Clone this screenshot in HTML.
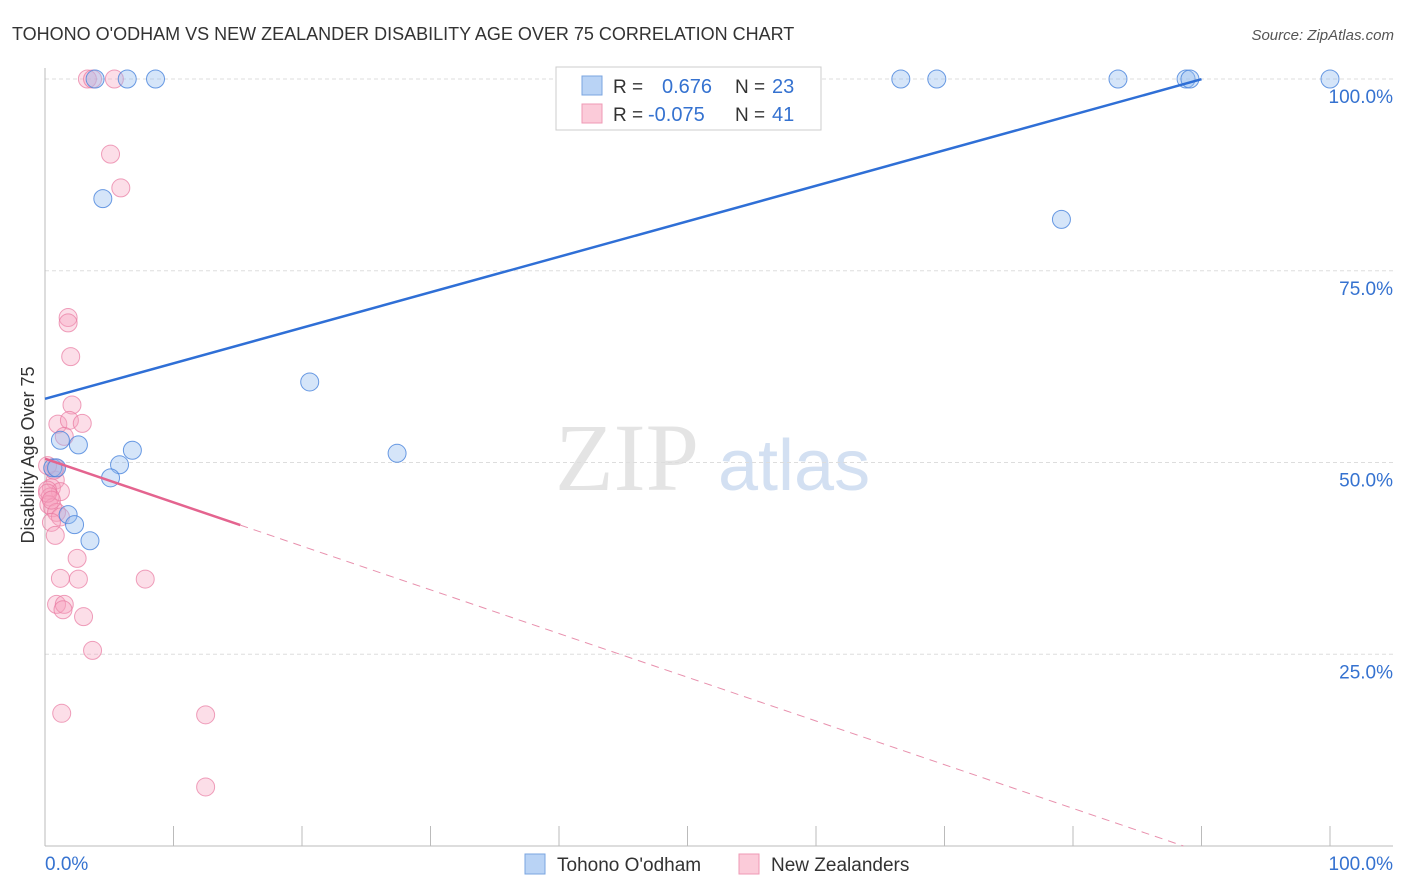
<!DOCTYPE html>
<html><head><meta charset="utf-8"><style>
body{margin:0;background:#fff;font-family:"Liberation Sans",sans-serif;}
svg{display:block}
</style></head><body>
<svg id="chart" width="1406" height="892">
<text x="12" y="40" font-size="18" fill="#333">TOHONO O'ODHAM VS NEW ZEALANDER DISABILITY AGE OVER 75 CORRELATION CHART</text>
<text x="1394" y="40" font-size="15" fill="#555" font-style="italic" text-anchor="end">Source: ZipAtlas.com</text>
<text x="555" y="490" font-size="96" fill="#e4e4e4" font-family="Liberation Serif">ZIP</text>
<text x="718" y="490" font-size="72" fill="#d3e0f2">atlas</text>
<g id="grid"></g><g id="axes"></g><g id="marks"></g>
<text transform="translate(34,455) rotate(-90)" font-size="18" fill="#333" text-anchor="middle">Disability Age Over 75</text>
<g>
<rect x="556" y="67" width="265" height="63" fill="#fff" stroke="#ccc"/>
<rect x="582" y="76" width="20" height="19" fill="#b9d3f5" stroke="#7aa5e0"/>
<rect x="582" y="104" width="20" height="19" fill="#fbcbd9" stroke="#ef9ab5"/>
<text x="613" y="93" font-size="19" fill="#333">R =</text><text x="662" y="93" font-size="20" fill="#3572d0">0.676</text>
<text x="735" y="93" font-size="19" fill="#333">N =</text><text x="772" y="93" font-size="20" fill="#3572d0">23</text>
<text x="613" y="121" font-size="19" fill="#333">R =</text><text x="648" y="121" font-size="20" fill="#3572d0">-0.075</text>
<text x="735" y="121" font-size="19" fill="#333">N =</text><text x="772" y="121" font-size="20" fill="#3572d0">41</text>
</g>
<g>
<rect x="525" y="854" width="20" height="20" fill="#b9d3f5" stroke="#7aa5e0"/>
<text x="557" y="871" font-size="19" fill="#333">Tohono O'odham</text>
<rect x="739" y="854" width="20" height="20" fill="#fbcbd9" stroke="#ef9ab5"/>
<text x="771" y="871" font-size="19" fill="#333">New Zealanders</text>
</g>
</svg>
<script>
const blueX=[3.9,6.4,8.6,66.6,69.4,83.5,88.8,89.1,100,4.5,79.1,20.6,27.4,1.2,2.6,6.8,5.8,0.6,0.9,5.1,1.8,2.3,3.5];
const blueY=[100,100,100,100,100,100,100,100,100,84.4,81.7,60.5,51.2,52.9,52.3,51.6,49.7,49.3,49.3,48,43.2,41.9,39.8];
const pinkX=[3.3,3.7,5.4,5.1,5.9,1.8,1.8,2,2.1,1,1.9,2.9,1.5,0.8,0.8,0.5,1.2,0.2,0.4,0.3,0.6,0.9,1.2,0.5,0.8,2.5,1.2,2.6,7.8,0.9,1.5,1.4,3,3.7,1.3,12.5,12.5,0.2,0.5,0.7,0.2];
const pinkY=[100,100,100,90.2,85.8,68.9,68.2,63.8,57.5,55,55.5,55.1,53.4,49.3,47.7,46.7,46.2,46.4,45.5,44.5,44.1,43.5,42.9,42.2,40.5,37.5,34.9,34.8,34.8,31.5,31.5,30.8,29.9,25.5,17.3,17.1,7.7,46,45.1,49,49.6];
const yTicks=[25,50,75,100];
const blueFit=[58.3,0.463], pinkFit=[50.5,-0.57];
const X=v=>45+v*12.85, Y=v=>846-v*7.67;
const NS="http://www.w3.org/2000/svg";
function mk(p,t,a){const e=document.createElementNS(NS,t);for(const k in a)e.setAttribute(k,a[k]);document.getElementById(p).appendChild(e);return e;}
yTicks.forEach(t=>{
 const l=mk('grid','line',{x1:45,x2:1393,y1:Y(t),y2:Y(t),stroke:'#ddd','stroke-dasharray':'4,3'});
 
 
 const tx=mk('grid','text',{x:1393,y:Y(t)+24,'font-size':19,fill:'#3572d0','text-anchor':'end'});tx.textContent=t.toFixed(1)+'%';
 
 
});
mk('axes','line',{x1:45,x2:45,y1:68,y2:846,stroke:'#bbb'});
mk('axes','line',{x1:45,x2:1393,y1:846,y2:846,stroke:'#bbb'});
for(let i=0;i<=10;i++){mk('axes','line',{x1:X(i*10),x2:X(i*10),y1:826,y2:846,stroke:'#bbb'});}
let t0=mk('axes','text',{x:45,y:870,'font-size':19,fill:'#3572d0'});t0.textContent='0.0%';


let t1=mk('axes','text',{x:1393,y:870,'font-size':19,fill:'#3572d0','text-anchor':'end'});t1.textContent='100.0%';


pinkX.forEach((x,i)=>{const c=mk('marks','circle',{cx:X(x),cy:Y(pinkY[i]),r:9,fill:'rgba(245,160,190,0.35)',stroke:'rgba(232,120,160,0.7)','stroke-width':1});
 
 });
blueX.forEach((x,i)=>{const c=mk('marks','circle',{cx:X(x),cy:Y(blueY[i]),r:9,fill:'rgba(150,190,240,0.4)',stroke:'rgba(70,130,220,0.8)','stroke-width':1});
 
 });
const bl=mk('marks','line',{x1:X(0),y1:Y(blueFit[0]),x2:X(90),y2:Y(blueFit[0]+blueFit[1]*90),stroke:'#2f6fd6','stroke-width':2.5});


const pl=mk('marks','line',{x1:X(0),y1:Y(pinkFit[0]),x2:X(15.2),y2:Y(pinkFit[0]+pinkFit[1]*15.2),stroke:'#e4648f','stroke-width':2.5});


const xe=-pinkFit[0]/pinkFit[1];
const pd=mk('marks','line',{x1:X(15.2),y1:Y(pinkFit[0]+pinkFit[1]*15.2),x2:X(xe),y2:Y(0),stroke:'#e890ad','stroke-width':1,'stroke-dasharray':'8,6'});


</script>
</body></html>
